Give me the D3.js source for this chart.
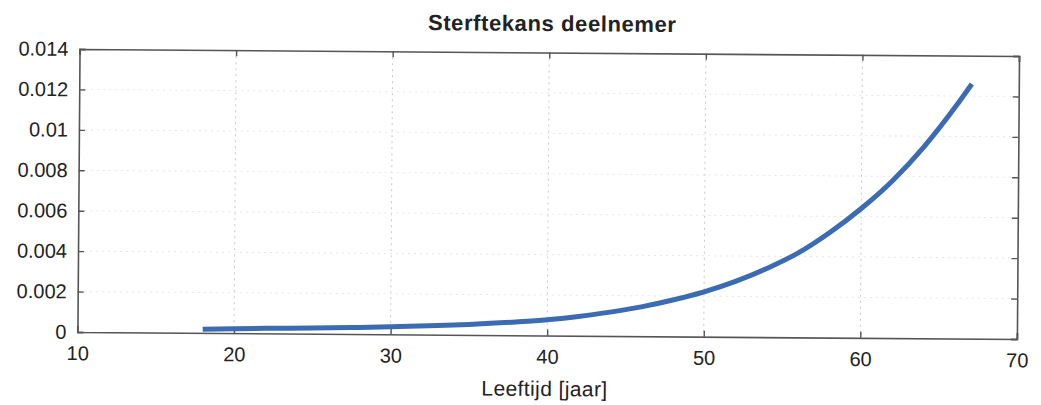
<!DOCTYPE html>
<html><head><meta charset="utf-8">
<script src="https://cdn.jsdelivr.net/npm/d3@7"></script>
<style>
html,body{margin:0;padding:0;background:#fff;}
svg{display:block;}
text{font-family:"Liberation Sans",Arial,Helvetica,sans-serif;fill:#222;}
</style></head>
<body>
<svg id="chart" width="1041" height="405"></svg>
<script>
const ages = [18,20,22,25,28,30,33,35,38,40,42,44,46,48,50,52,54,56,58,60,62,64,66,67];
const deathProb = [0.00018,0.00022,0.00025,0.00028,0.00033,0.00037,0.00045,0.00052,0.00066,0.00078,0.00095,0.00118,0.00145,0.00180,0.00222,0.00275,0.00340,0.00418,0.00520,0.00640,0.00780,0.00950,0.01150,0.01260];
const xTicks = [10,20,30,40,50,60,70];
const yTicks = [0,0.002,0.004,0.006,0.008,0.01,0.012,0.014];
const yTickLabels = ["0","0.002","0.004","0.006","0.008","0.01","0.012","0.014"];
const title = "Sterftekans deelnemer";
const xTitle = "Leeftijd [jaar]";

const svg = d3.select("#chart");
const m = {left:78.5, right:1018, top:52.5, bottom:335.5};
const x = d3.scaleLinear().domain([10,70]).range([m.left, m.right]);
const y = d3.scaleLinear().domain([0,0.014]).range([m.bottom, m.top]);

const g = svg.append("g").attr("transform", "rotate(0.43,548,190)");

// grid
g.append("g").selectAll("line").data(xTicks.slice(1,-1)).join("line")
  .attr("x1", d=>x(d)).attr("x2", d=>x(d)).attr("y1", m.top).attr("y2", m.bottom)
  .attr("stroke", "#c8c8c8").attr("stroke-width", 1).attr("stroke-dasharray", "2,4");
g.append("g").selectAll("line").data(yTicks.slice(1,-1)).join("line")
  .attr("y1", d=>y(d)).attr("y2", d=>y(d)).attr("x1", m.left).attr("x2", m.right)
  .attr("stroke", "#e6e6e6").attr("stroke-width", 1).attr("stroke-dasharray", "2,4");

// axes (inward ticks)
const tickLen = 6;
const xb = g.append("g").attr("transform", `translate(0,${m.bottom})`)
  .call(d3.axisBottom(x).tickValues(xTicks).tickSize(-tickLen).tickPadding(14).tickFormat(d3.format("d")));
const xt = g.append("g").attr("transform", `translate(0,${m.top})`)
  .call(d3.axisTop(x).tickValues(xTicks).tickSize(-tickLen).tickFormat(""));
const yl = g.append("g").attr("transform", `translate(${m.left},0)`)
  .call(d3.axisLeft(y).tickValues(yTicks).tickSize(-tickLen).tickPadding(11).tickFormat((d,i)=>yTickLabels[i]));
const yr = g.append("g").attr("transform", `translate(${m.right},0)`)
  .call(d3.axisRight(y).tickValues(yTicks).tickSize(-tickLen).tickFormat(""));
[xb,xt,yl,yr].forEach(a=>{
  a.selectAll("path").attr("stroke","#555").attr("stroke-width",1.6);
  a.selectAll("line").attr("stroke","#555").attr("stroke-width",1.4);
  a.selectAll("text").attr("font-size",20).attr("fill","#222")
   .attr("font-family",'"Liberation Sans",Arial,sans-serif');
});

// line
const line = d3.line().x((d,i)=>x(ages[i])).y(d=>y(d)).curve(d3.curveMonotoneX);
g.append("path").datum(deathProb).attr("d", line)
  .attr("fill","none").attr("stroke","#3b6bb3").attr("stroke-width",5).attr("stroke-linecap","butt");

// titles
g.append("text").attr("x", 551).attr("y", 31).attr("text-anchor","middle")
  .attr("font-size",22).attr("font-weight","bold").attr("letter-spacing",0.6).text(title);
g.append("text").attr("x", 546).attr("y", 396).attr("text-anchor","middle")
  .attr("font-size",21).attr("letter-spacing",0.4).text(xTitle);
</script>
</body></html>
